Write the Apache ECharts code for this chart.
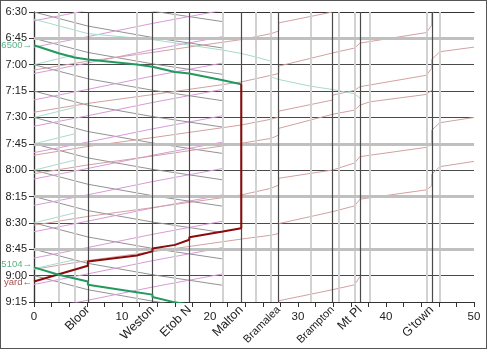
<!DOCTYPE html>
<html><head><meta charset="utf-8">
<script src="https://cdn.jsdelivr.net/npm/echarts@6/dist/echarts.min.js"></script>
<style>html,body{margin:0;padding:0;background:#fff}#c{width:487px;height:349px;box-sizing:border-box;border:1.5px solid #555}</style>
</head><body><div id="c"></div>
<script>
// ---- data ----
const stationKm = [6.12, 13.46, 17.65, 23.55, 27.81, 33.93, 37.04, 45.2];
const stationNames = ['Bloor', 'Weston', 'Etob N', 'Malton', 'Bramalea', 'Brampton', 'Mt Pl', "G'town"];
const minorKm = [2.8, 4.61, 11.68, 16.02, 21.46, 25.2, 26.95, 31.4, 34.6, 36.43, 38.17, 44.59, 46.11];
const distTicks = [0, 10, 20, 30, 40, 50];
const timeTicks = ['6:30', '6:45', '7:00', '7:15', '7:30', '7:45', '8:00', '8:15', '8:30', '8:45', '9:00', '9:15'];
const shadedTimes = ['6:45', '7:45', '8:15', '8:45'];

// UP Express outbound (grey)
const upOutKm = [0, 6.12, 13.46, 21.46];
const upOutTimes = [
  ['6:15', '6:23', '6:29.5', '6:35.5'], ['6:30', '6:38', '6:44.5', '6:50.5'], ['6:45', '6:53', '6:59.5', '7:05.5'],
  ['7:00', '7:08', '7:14.5', '7:20.5'], ['7:15', '7:23', '7:29.5', '7:35.5'], ['7:30', '7:38', '7:44.5', '7:50.5'],
  ['7:45', '7:53', '7:59.5', '8:05.5'], ['8:00', '8:08', '8:14.5', '8:20.5'], ['8:15', '8:23', '8:29.5', '8:35.5'],
  ['8:30', '8:38', '8:44.5', '8:50.5'], ['8:45', '8:53', '8:59.5', '9:05.5'], ['9:00', '9:08', '9:14.5', '9:20.5']
];
// UP Express inbound (purple)
const upInKm = [21.46, 13.46, 6.12, 0];
const upInTimes = [
  ['6:14', '6:21.5', '6:29', '6:35'], ['6:29', '6:36.5', '6:44', '6:50'], ['6:44', '6:51.5', '6:59', '7:05'],
  ['6:59', '7:06.5', '7:14', '7:20'], ['7:14', '7:21.5', '7:29', '7:35'], ['7:29', '7:36.5', '7:44', '7:50'],
  ['7:44', '7:51.5', '7:59', '8:05'], ['7:59', '8:06.5', '8:14', '8:20'], ['8:14', '8:21.5', '8:29', '8:35'],
  ['8:29', '8:36.5', '8:44', '8:50'], ['8:44', '8:51.5', '8:59', '9:05'], ['8:59', '9:06.5', '9:14', '9:20']
];
// GO inbound trains (rose)
const goIn = [
  [[33.93, '6:30'], [27.81, '6:36.2'], [27.81, '6:40.8'], [26.95, '6:42.3'], [23.55, '6:45.7'], [21.46, '6:47.2'], [17.65, '6:49.9'], [13.46, '6:53'], [6.12, '6:58'], [0, '7:03']],
  [[45.6, '6:29'], [45.2, '6:31'], [45.2, '6:37.5'], [44.59, '6:41.7'], [37.04, '6:47.7'], [36.43, '6:50.5'], [33.93, '6:53.3'], [27.81, '7:00.8'], [27.81, '7:05'], [26.95, '7:06'], [23.55, '7:09.8'], [21.46, '7:11.3'], [17.65, '7:14'], [13.46, '7:17'], [6.12, '7:22'], [0, '7:27']],
  [[50, '6:50'], [46.11, '6:52.6'], [45.2, '6:57'], [45.2, '7:02'], [44.59, '7:06'], [37.04, '7:12.5'], [36.43, '7:14.6'], [33.93, '7:17.3'], [33.93, '7:20.1'], [27.81, '7:26.4'], [27.81, '7:29.8'], [26.95, '7:31'], [23.55, '7:34.3'], [21.46, '7:35.8'], [17.65, '7:38.5'], [13.46, '7:41.5'], [6.12, '7:46.5'], [0, '7:51.5']],
  [[45.2, '7:14.5'], [44.59, '7:16.9'], [38.17, '7:21.1'], [37.04, '7:23'], [36.43, '7:25.8'], [33.93, '7:28.2'], [27.81, '7:36.2'], [27.81, '7:40'], [26.95, '7:41.9'], [23.55, '7:44.7'], [21.46, '7:46.2'], [17.65, '7:48.9'], [13.46, '7:52'], [6.12, '7:57'], [0, '8:02']],
  [[50, '7:30'], [46.11, '7:33'], [45.2, '7:37.2'], [45.2, '7:44.7'], [44.59, '7:47'], [37.04, '7:52.3'], [36.43, '7:55.9'], [33.93, '7:59.9'], [27.81, '8:04.6'], [27.81, '8:08.4'], [26.95, '8:10.3'], [23.55, '8:14.1'], [21.46, '8:15.6'], [17.65, '8:18.3'], [13.46, '8:21.3'], [6.12, '8:26.3'], [0, '8:31.3']],
  [[50, '7:55'], [46.11, '7:58'], [45.2, '8:02.3'], [45.2, '8:08.9'], [44.59, '8:11.2'], [37.04, '8:16.5'], [36.43, '8:20.3'], [33.93, '8:23.6'], [27.81, '8:30.4'], [27.81, '8:36'], [26.95, '8:37'], [23.55, '8:39.2'], [21.46, '8:40.7'], [17.65, '8:43.4'], [13.46, '8:46.4'], [6.12, '8:51.4'], [0, '8:56.4']],
  [[37.04, '9:00.5'], [36.43, '9:05.2'], [33.93, '9:08'], [27.81, '9:14.3'], [27.81, '9:18']]
];
// GO outbound (teal)
const goOut = [
  [[0, '6:34.1'], [6.12, '6:42.3'], [13.46, '6:45.7'], [21.46, '6:51.7'], [23.55, '6:53.6'], [25.2, '6:55.6'], [26.95, '6:58'], [26.95, '7:06.9'], [27.81, '7:08.4'], [31.4, '7:12.2'], [33.93, '7:14.1'], [36.43, '7:16.5'], [37.04, '7:19']]
];
// short teal arrivals from the junction
const tealIn = [
  [[4.61, '6:54.3'], [0, '7:00']], [[4.61, '7:24.3'], [0, '7:30']], [[4.61, '7:39.3'], [0, '7:45']],
  [[4.61, '7:54.3'], [0, '8:00']], [[4.61, '8:24.3'], [0, '8:30']], [[4.61, '8:51'], [0, '8:56']]
];
// highlighted trains
const train6500 = [[0, '6:48.9'], [2.8, '6:53.5'], [4.61, '6:55.9'], [6.12, '6:57'], [11.68, '6:59.9'], [13.46, '7:01.2'], [16.02, '7:04.1'], [17.65, '7:05'], [21.46, '7:08.8'], [23.55, '7:11.1']];
const trainYard = [[23.55, '7:11.1'], [23.55, '8:33'], [21.46, '8:34.9'], [17.65, '8:38.1'], [17.65, '8:39.6'], [16.02, '8:42.5'], [13.46, '8:44.5'], [13.46, '8:46.2'], [11.68, '8:48.5'], [6.12, '8:52'], [6.12, '8:54.4'], [0, '9:03.3']];
const train5104 = [[0, '8:55.3'], [2.8, '8:59.5'], [6.12, '9:03.3'], [6.12, '9:05.2'], [11.68, '9:09.5'], [13.46, '9:10.8'], [13.46, '9:12.1'], [16.02, '9:15.2'], [17.65, '9:16.5']];

// ---- helpers ----
function tm(s) { const p = s.split(':'); return +p[0] * 60 + parseFloat(p[1]); }
function fmt(v) { const h = Math.floor(v / 60), m = Math.round(v - h * 60); return h + ':' + (m < 10 ? '0' : '') + m; }
function pts(list) { return list.map(p => [p[0], tm(p[1])]); }

const FONT = 'Liberation Sans, Arial, sans-serif';
const series = [];
series.push({
  type: 'line', data: [], silent: true, z: 1,
  markLine: {
    silent: true, symbol: 'none', animation: false, label: { show: false },
    data: [
      ...minorKm.map(k => ({ xAxis: k, lineStyle: { color: '#d2d2d2', width: 2, type: 'solid' } })),
      ...shadedTimes.map(t => ({ yAxis: tm(t), lineStyle: { color: '#c0c0c0', width: 3, type: 'solid' } })),
      ...stationKm.map(k => ({ xAxis: k, lineStyle: { color: '#4a4a4a', width: 1.2, type: 'solid' } }))
    ]
  }
});
function addLine(data, color, width, z) {
  series.push({ type: 'line', data, showSymbol: false, silent: true, animation: false, z: z || 3,
    lineStyle: { color, width }, clip: true });
}
upOutTimes.forEach(ts => addLine(ts.map((t, i) => [upOutKm[i], tm(t)]), '#929292', 1));
upInTimes.forEach(ts => addLine(ts.map((t, i) => [upInKm[i], tm(t)]), '#d89ad8', 1));
goIn.forEach(tr => addLine(pts(tr), '#d3a0a0', 1));
goOut.forEach(tr => addLine(pts(tr), '#a6dbcc', 1));
tealIn.forEach(tr => addLine(pts(tr), '#a6dbcc', 1));
addLine(pts(train6500), '#22995e', 2, 5);
addLine(pts(trainYard), '#8b0a0a', 2, 5);
addLine(pts(train5104), '#22995e', 2, 5);
series.push({
  type: 'scatter', symbolSize: 0, silent: true, z: 6, clip: false,
  data: [
    { value: [0, tm('6:48.9')], label: { formatter: '6500→', color: '#2a9d66' } },
    { value: [0, tm('8:53.6')], label: { formatter: '5104→', color: '#2a9d66' } },
    { value: [0, tm('9:04')], label: { formatter: 'yard←', color: '#8b1a1a' } }
  ],
  label: { show: true, position: 'left', distance: 2, fontSize: 9.5, fontFamily: FONT }
});

const chart = echarts.init(document.getElementById('c'), null, { renderer: 'canvas' });
chart.setOption({
  animation: false,
  grid: { left: 33, right: 12, top: 11, bottom: 46 },
  xAxis: [{
    type: 'value', min: 0, max: 50, interval: 2, position: 'bottom',
    axisLine: { lineStyle: { color: '#333', width: 1.2 } },
    axisTick: { show: true, length: 5, lineStyle: { color: '#333' } },
    axisLabel: { customValues: distTicks, formatter: v => String(v), color: '#222', fontSize: 11.5, fontFamily: FONT, margin: 9 },
    splitLine: { show: false }
  }, {
    type: 'value', min: 0, max: 50, position: 'bottom',
    axisLine: { show: false }, axisTick: { show: false }, splitLine: { show: false },
    axisLabel: {
      customValues: stationKm, rotate: 45, margin: 6, fontFamily: FONT, color: '#222', fontSize: 12.5,
      formatter: v => { const i = stationKm.indexOf(v); const n = stationNames[i];
        return (n === 'Bramalea' || n === 'Brampton') ? '{s|' + n + '}' : n; },
      rich: { s: { fontSize: 11, fontFamily: FONT, color: '#222' } }
    }
  }, {
    type: 'value', min: 0, max: 50, position: 'top',
    axisLine: { lineStyle: { color: '#333', width: 1.2 } }, axisTick: { show: false }, axisLabel: { show: false }, splitLine: { show: false }
  }],
  yAxis: [{
    type: 'value', inverse: true, min: tm('6:30'), max: tm('9:15'), interval: 15,
    axisLine: { show: true, lineStyle: { color: '#333', width: 1.2 } },
    axisTick: { show: true, length: 5, lineStyle: { color: '#333' } },
    axisLabel: { formatter: v => fmt(v), color: '#222', fontSize: 11, fontFamily: FONT, margin: 7 },
    splitLine: { show: true, lineStyle: { color: '#4a4a4a', width: 1 } }
  }, {
    type: 'value', inverse: true, min: tm('6:30'), max: tm('9:15'), position: 'right',
    axisLine: { show: true, lineStyle: { color: '#333', width: 1.2 } }, axisTick: { show: false }, axisLabel: { show: false }, splitLine: { show: false }
  }],
  series
});
</script></body></html>
